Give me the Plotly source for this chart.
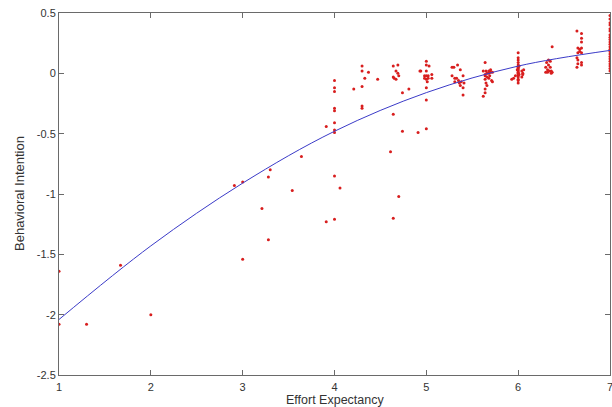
import plotly.graph_objects as go

# Observed data points (Effort Expectancy, Behavioral Intention)
ee = [1.0, 1.0, 1.3, 1.67, 2.0,
      2.91, 3.0, 3.0, 3.21, 3.28, 3.30, 3.28, 3.54, 3.64,
      3.91, 3.91, 4.0, 4.0, 4.0, 4.0, 4.0, 4.0, 4.0, 4.0, 4.0, 4.0, 4.06, 4.21, 4.30, 4.30, 4.37, 4.33, 4.30, 4.30, 4.30, 4.47,
      4.61, 4.64, 4.69, 4.67, 4.64, 4.65, 4.69, 4.70, 4.67, 4.64, 4.70, 4.64, 4.74, 4.81, 4.74, 4.91, 4.93,
      5.0, 5.0, 4.94, 5.03, 5.0, 4.98, 5.0, 5.02, 4.98, 5.0, 5.02, 5.06, 5.06, 5.01, 5.0, 5.0, 5.0,
      5.28, 5.30, 5.34, 5.37, 5.28, 5.31, 5.33, 5.35, 5.40, 5.38, 5.41, 5.31, 5.36, 5.37, 5.40, 5.40,
      5.64, 5.62, 5.65, 5.68, 5.70, 5.64, 5.66, 5.68, 5.70, 5.72, 5.64, 5.66, 5.69, 5.64, 5.68, 5.71, 5.72, 5.65, 5.66, 5.64, 5.64, 5.62,
      6.0, 6.0, 6.0, 6.0, 6.0, 6.0, 6.0, 6.0, 6.0, 6.0, 6.0, 6.0, 6.0, 6.0, 6.0, 6.0, 6.0, 6.01, 6.01, 5.99, 5.93, 5.95, 5.97, 6.05, 6.05, 6.04, 6.04, 6.06,
      6.37, 6.33, 6.30, 6.35, 6.32, 6.34, 6.36, 6.30, 6.32, 6.36, 6.37, 6.33, 6.31, 6.35,
      6.64, 6.69, 6.69, 6.69, 6.65, 6.67, 6.69, 6.65, 6.69, 6.64, 6.65, 6.69, 6.65, 6.69, 6.64, 6.67,
      7.0, 7.0, 7.0, 7.0, 7.0, 7.0, 7.0, 7.0, 7.0, 7.0, 7.0, 7.0, 7.0, 7.0, 7.0, 7.0, 7.0, 7.0, 7.0, 7.0, 7.0, 7.0]
bi = [-1.64, -2.08, -2.08, -1.59, -2.0,
      -0.93, -0.90, -1.54, -1.12, -0.86, -0.80, -1.38, -0.97, -0.69,
      -0.44, -1.23, -0.06, -0.12, -0.15, -0.29, -0.31, -0.41, -0.47, -0.49, -0.85, -1.21, -0.95, -0.13, 0.06, 0.02, 0.01, -0.04, -0.11, -0.27, -0.29, -0.05,
      -0.65, 0.06, 0.07, 0.02, -0.03, -0.04, 0.0, -0.02, -0.05, -0.34, -1.02, -1.20, -0.16, -0.13, -0.48, -0.49, 0.02,
      0.10, 0.07, 0.02, 0.06, 0.02, -0.02, -0.02, -0.02, -0.04, -0.05, -0.04, -0.01, -0.04, -0.07, -0.12, -0.22, -0.46,
      0.05, 0.05, 0.07, 0.03, -0.02, -0.04, -0.04, -0.06, -0.02, -0.07, -0.08, -0.07, -0.08, -0.10, -0.12, -0.18,
      0.09, 0.02, 0.02, 0.02, 0.03, -0.01, 0.0, 0.0, 0.01, 0.01, -0.02, -0.03, -0.02, -0.05, -0.04, -0.06, -0.07, -0.08, -0.10, -0.13, -0.16, -0.19,
      0.17, 0.13, 0.11, 0.09, 0.07, 0.05, 0.04, 0.03, 0.02, 0.01, 0.0, -0.01, -0.02, -0.03, -0.05, -0.06, -0.08, 0.06, -0.01, 0.03, -0.05, -0.04, -0.02, 0.0, -0.01, -0.03, 0.02, 0.03,
      0.22, 0.11, 0.05, 0.05, 0.03, 0.02, 0.02, 0.01, 0.01, 0.0, 0.01, 0.07, 0.09, 0.10,
      0.35, 0.33, 0.29, 0.26, 0.21, 0.20, 0.21, 0.17, 0.17, 0.13, 0.11, 0.09, 0.08, 0.07, 0.05, 0.18,
      0.48, 0.45, 0.42, 0.40, 0.37, 0.35, 0.32, 0.30, 0.28, 0.26, 0.24, 0.22, 0.20, 0.18, 0.16, 0.14, 0.12, 0.10, 0.08, 0.06, 0.04, 0.02]

# Fitted curve at integer x
fit_x = [1, 2, 3, 4, 5, 6, 7]
fit_y = [-2.04, -1.43, -0.91, -0.48, -0.16, 0.06, 0.19]

x_ticks = [1, 2, 3, 4, 5, 6, 7]
y_ticks = [-2.5, -2, -1.5, -1, -0.5, 0, 0.5]
y_tick_labels = ["-2.5", "-2", "-1.5", "-1", "-0.5", "0", "0.5"]

x_title = "Effort Expectancy"
y_title = "Behavioral Intention"

fig = go.Figure()
fig.add_trace(go.Scatter(x=ee, y=bi, mode="markers",
                         marker=dict(size=3, color="#d81e1e"),
                         showlegend=False))
fig.add_trace(go.Scatter(x=fit_x, y=fit_y, mode="lines",
                         line=dict(color="#3b3bc8", width=1, shape="spline"),
                         showlegend=False))

font_family = "Liberation Sans, Arial"
axis_common = dict(showgrid=False, zeroline=False, showline=True, linecolor="#6a6a6a",
                   linewidth=1, mirror="ticks", ticks="inside", ticklen=5,
                   tickcolor="#6a6a6a", tickfont=dict(family=font_family, size=11, color="#333333"),
                   automargin=False, ticklabeloverflow="allow")

fig.update_layout(
    width=612, height=407,
    margin=dict(l=59, r=2, t=13, b=32),
    paper_bgcolor="white", plot_bgcolor="white",
    xaxis=dict(range=[1, 7], tickvals=x_ticks, ticktext=[str(v) for v in x_ticks],
               ticklabelstandoff=2, **axis_common),
    yaxis=dict(range=[-2.5, 0.5], tickvals=y_ticks, ticktext=y_tick_labels,
               **axis_common),
    annotations=[
        dict(text=x_title, xref="paper", yref="paper", x=0.5, y=0,
             xanchor="center", yanchor="middle", yshift=-24.5, showarrow=False, borderpad=0,
             font=dict(family=font_family, size=12.5, color="#333333")),
        dict(text=y_title, xref="paper", yref="paper", x=0, y=0.5,
             xanchor="center", yanchor="middle", xshift=-40, textangle=-90, showarrow=False,
             font=dict(family=font_family, size=13, color="#333333")),
    ],
)

fig.write_html("out.html", config={"displayModeBar": False},
               post_script="document.body.style.margin='0';document.body.style.overflow='hidden';")
